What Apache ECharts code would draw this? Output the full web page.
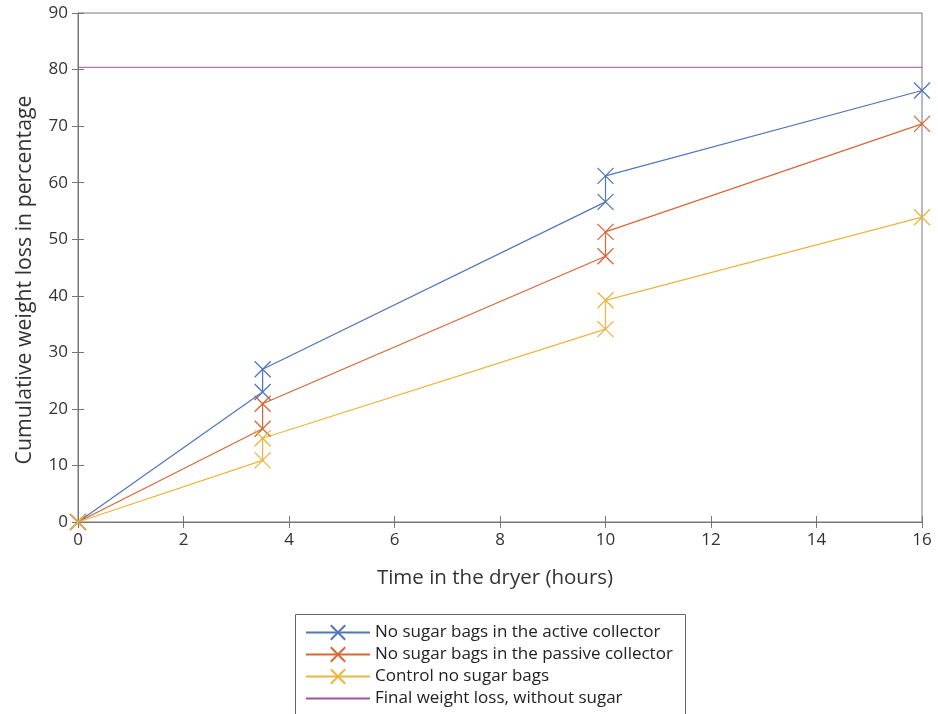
<!DOCTYPE html>
<html><head><meta charset="utf-8">
<script src="https://cdn.jsdelivr.net/npm/echarts@6/dist/echarts.min.js"></script>
<style>html,body{margin:0;padding:0;background:#fff}#c{width:938px;height:714px}</style>
</head><body><div id="c"></div>
<script>
const seriesNames = ['No sugar bags in the active collector','No sugar bags in the passive collector','Control no sugar bags','Final weight loss, without sugar'];
const activeX = [0, 3.5, 3.5, 10, 10, 16];
const activeY = [0, 23.0, 27.0, 56.6, 61.2, 76.3];
const passiveX = [0, 3.5, 3.5, 10, 10, 16];
const passiveY = [0, 16.5, 20.9, 47.0, 51.3, 70.4];
const controlX = [0, 3.5, 3.5, 10, 10, 16];
const controlY = [0, 10.9, 14.8, 34.1, 39.2, 53.9];
const finalX = [0, 16];
const finalY = [80.4, 80.4];
const xTicks = [0, 2, 4, 6, 8, 10, 12, 14, 16];
const yTicks = [0, 10, 20, 30, 40, 50, 60, 70, 80, 90];

const colors = ['#5076bb', '#d96636', '#ebb53e', '#a0509f'];
const FONT = '"Open Sans", "Noto Sans", sans-serif';
const xSym = 'path://M0,0L10,10M10,0L0,10';
const zip = (xs, ys) => xs.map((x, i) => [x, ys[i]]);

function markSeries(name, data, color) {
  return {
    name, type: 'line', data, xAxisIndex: 0, yAxisIndex: 0,
    symbol: xSym, symbolSize: 16, showSymbol: true,
    lineStyle: { color, width: 1.2 },
    itemStyle: { color: 'rgba(0,0,0,0)', borderColor: color, borderWidth: 1.3 },
    emphasis: { disabled: true }, animation: false
  };
}

const axisCommon = {
  type: 'value', min: 0,
  axisLine: { show: true, lineStyle: { color: '#777', width: 1 } },
  axisTick: { show: true, inside: true, length: 6, lineStyle: { color: '#777' } },
  splitLine: { show: false }
};

const chart = echarts.init(document.getElementById('c'), null, { renderer: 'canvas' });
chart.setOption({
  backgroundColor: '#fff',
  animation: false,
  grid: { left: 78, right: 16, top: 13, bottom: 192, containLabel: false,
          show: true, borderColor: '#777', borderWidth: 1, backgroundColor: 'transparent' },
  xAxis: [
    Object.assign({}, axisCommon, {
      max: 16, interval: 2, position: 'bottom',
      axisLabel: { color: '#333', fontSize: 17, fontFamily: FONT, margin: 10 },
      name: 'Time in the dryer (hours)', nameLocation: 'middle', nameGap: 46,
      nameTextStyle: { color: '#333', fontSize: 20.5, fontFamily: FONT, padding: [0, 10, 0, 0] }
    }),
    Object.assign({}, axisCommon, {
      max: 16, interval: 2, position: 'top', axisLabel: { show: false }
    })
  ],
  yAxis: [
    Object.assign({}, axisCommon, {
      max: 90, interval: 10, position: 'left',
      axisLabel: { color: '#333', fontSize: 17, fontFamily: FONT, margin: 10 },
      name: 'Cumulative weight loss in percentage', nameLocation: 'middle', nameGap: 43,
      nameTextStyle: { color: '#333', fontSize: 21.3, fontFamily: FONT, padding: [0, 25, 0, 0] }
    }),
    Object.assign({}, axisCommon, {
      max: 90, interval: 10, position: 'right', axisLabel: { show: false }
    })
  ],
  legend: {
    orient: 'vertical', left: 300, top: 619, height: 300, itemGap: 5,
    itemWidth: 64, itemHeight: 18,
    textStyle: { color: '#222', fontSize: 17, fontFamily: FONT },
    data: [seriesNames[0], seriesNames[1], seriesNames[2],
           { name: seriesNames[3], itemStyle: { opacity: 0 } }]
  },
  graphic: [{
    type: 'rect', left: 293, top: 612, shape: { width: 390, height: 110 },
    style: { fill: 'none', stroke: '#666', lineWidth: 1 }, silent: true, z: -1
  }],
  series: [
    {
      name: seriesNames[3], type: 'line', data: zip(finalX, finalY), symbol: 'none',
      lineStyle: { color: colors[3], width: 1 }, itemStyle: { color: colors[3] },
      emphasis: { disabled: true }
    },
    markSeries(seriesNames[0], zip(activeX, activeY), colors[0]),
    markSeries(seriesNames[1], zip(passiveX, passiveY), colors[1]),
    markSeries(seriesNames[2], zip(controlX, controlY), colors[2])
  ]
});
</script></body></html>
